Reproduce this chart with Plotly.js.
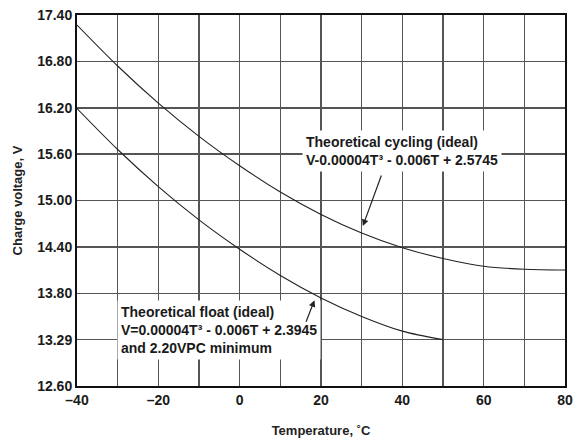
<!DOCTYPE html>
<html>
<head>
<meta charset="utf-8">
<script src="https://cdn.plot.ly/plotly-3.0.1.min.js"></script>
<style>html,body{margin:0;padding:0;background:#fff;}#chart{width:574px;height:438px;}</style>
</head>
<body>
<div id="chart"></div>
<script>
// Temperature (°C)
const tempCycling = [-40, -30, -20, -10, 0, 10, 20, 30, 40, 50, 60, 70, 80];
const voltCycling = [17.27, 16.74, 16.26, 15.83, 15.45, 15.11, 14.82, 14.58, 14.39, 14.25, 14.15, 14.11, 14.10];
const tempFloat = [-40, -30, -20, -10, 0, 10, 20, 30, 40, 50];
const voltFloat = [16.19, 15.66, 15.18, 14.75, 14.37, 14.03, 13.74, 13.50, 13.31, 13.20];
const xTickVals = [-40, -20, 0, 20, 40, 60, 80];
const xTickText = ['–40', '–20', '0', '20', '40', '60', '80'];
const yTickVals = [12.6, 13.2, 13.8, 14.4, 15.0, 15.6, 16.2, 16.8, 17.4];
const yTickText = ['12.60', '13.29', '13.80', '14.40', '15.00', '15.60', '16.20', '16.80', '17.40'];
const labelCycling = 'Theoretical cycling (ideal)<br>V-0.00004T³ - 0.006T + 2.5745';
const labelFloat = 'Theoretical float (ideal)<br>V=0.00004T³ - 0.006T + 2.3945<br>and 2.20VPC minimum';

const font = 'Liberation Sans, Arial, Helvetica, sans-serif';
const bold = s => '<b>' + s + '</b>';
const traces = [
  {x: tempCycling, y: voltCycling, mode: 'lines', line: {color: '#222', width: 1.1, shape: 'spline', smoothing: 0.8}, hoverinfo: 'skip'},
  {x: tempFloat, y: voltFloat, mode: 'lines', line: {color: '#222', width: 1.1, shape: 'spline', smoothing: 0.8}, hoverinfo: 'skip'}
];
const layout = {
  width: 574, height: 438,
  margin: {l: 77, r: 9, t: 15, b: 52},
  paper_bgcolor: '#fff', plot_bgcolor: '#fff',
  showlegend: false,
  font: {family: font, color: '#222'},
  xaxis: {
    range: [-40, 80], tickvals: xTickVals, ticktext: xTickText.map(bold),
    ticklabeloverflow: 'allow',
    showgrid: true, gridcolor: '#555', gridwidth: 1.5,
    minor: {dtick: 10, showgrid: true, gridcolor: '#555', gridwidth: 1.5, tick0: 0},
    showline: true, mirror: true, linecolor: '#111', linewidth: 2,
    zeroline: false, ticks: '', ticklen: 0,
    tickfont: {size: 14, family: font, color: '#1a1a1a'},
    title: {text: bold('Temperature, ˚C'), font: {size: 13, family: font, color: '#222'}, standoff: 24}
  },
  yaxis: {
    range: [12.6, 17.4], tickvals: yTickVals, ticktext: yTickText.map(bold),
    ticklabeloverflow: 'allow',
    showgrid: true, gridcolor: '#555', gridwidth: 1.5,
    showline: true, mirror: true, linecolor: '#111', linewidth: 2,
    zeroline: false, ticks: '', ticklen: 0,
    tickfont: {size: 14, family: font, color: '#1a1a1a'},
    title: {text: bold('Charge voltage, V'), font: {size: 13, family: font, color: '#222'}, standoff: 12}
  },
  annotations: [
    {xref: 'x', yref: 'y', x: 15.3, y: 15.64, xanchor: 'left', yanchor: 'middle', align: 'left',
     text: bold(labelCycling), showarrow: false, bgcolor: '#fff', borderpad: 3,
     font: {size: 14, family: font, color: '#1a1a1a'}},
    {xref: 'x', yref: 'y', x: 30.3, y: 14.67, ax: 19, ay: -52, text: '', showarrow: true,
     arrowhead: 2, arrowsize: 1.1, arrowwidth: 1.2, arrowcolor: '#222', standoff: 0},
    {xref: 'x', yref: 'y', x: -30.1, y: 13.32, xanchor: 'left', yanchor: 'middle', align: 'left',
     text: bold(labelFloat), showarrow: false, bgcolor: '#fff', borderpad: 3,
     font: {size: 14, family: font, color: '#1a1a1a'}},
    {xref: 'x', yref: 'y', x: 18.4, y: 13.71, ax: -9, ay: 23, text: '', showarrow: true,
     arrowhead: 2, arrowsize: 1.1, arrowwidth: 1.2, arrowcolor: '#222', standoff: 0}
  ]
};
Plotly.newPlot('chart', traces, layout, {displayModeBar: false, staticPlot: true});
</script>
</body>
</html>
